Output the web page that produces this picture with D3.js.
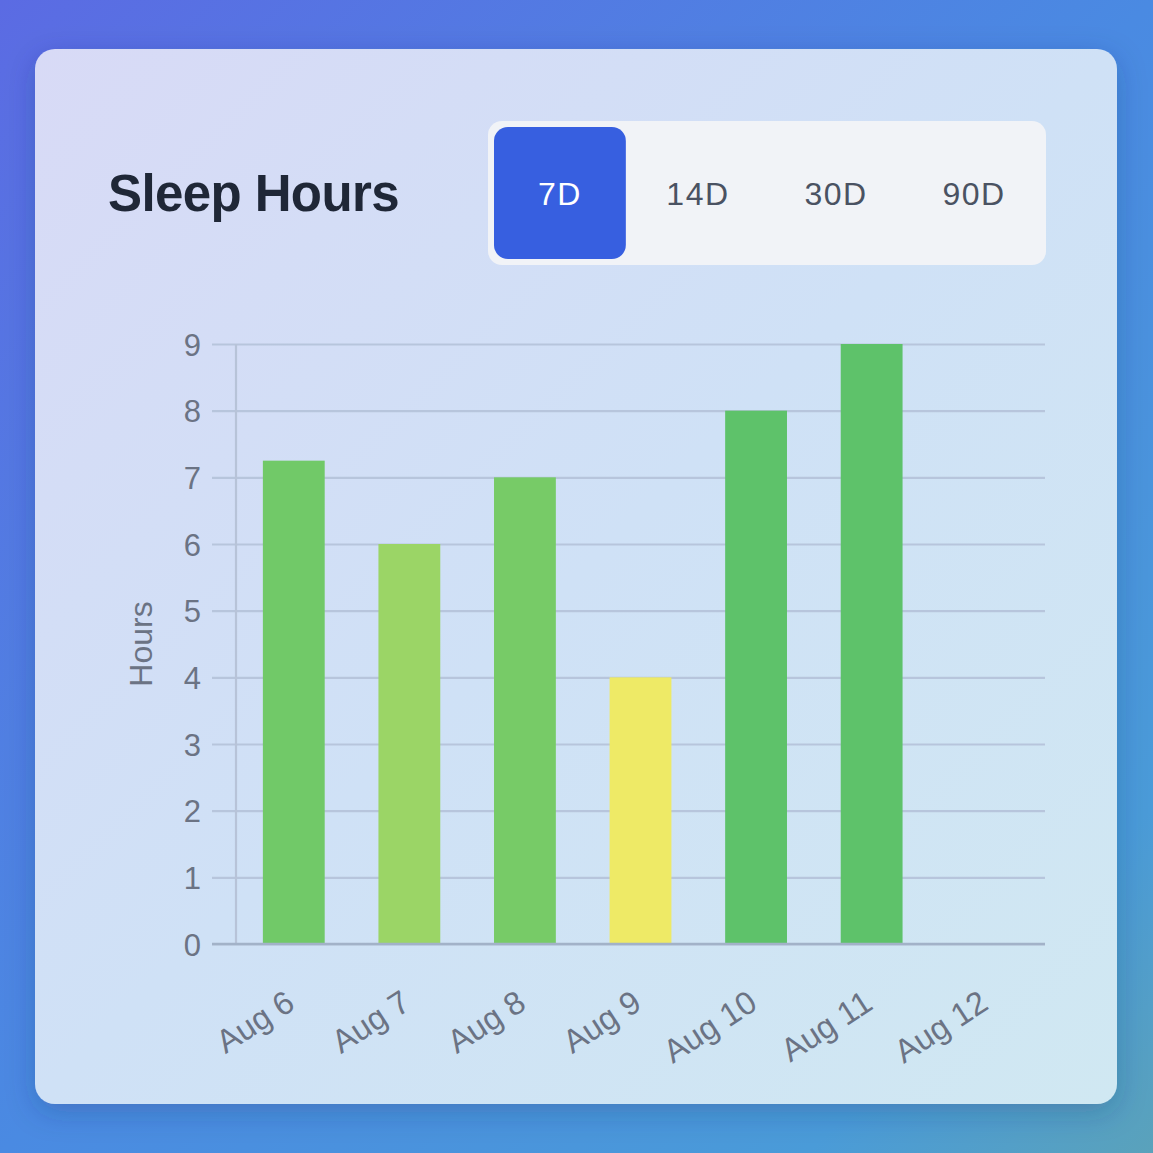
<!DOCTYPE html>
<html>
<head>
<meta charset="utf-8">
<script src="https://cdn.jsdelivr.net/npm/d3@7"></script>
<style>
  html, body { margin: 0; padding: 0; }
  body { width: 1153px; height: 1153px; overflow: hidden; }
  svg { display: block; }
</style>
</head>
<body>
<svg id="chart" width="1153" height="1153"></svg>
<script>
// ---- data ----
const categories = ["Aug 6", "Aug 7", "Aug 8", "Aug 9", "Aug 10", "Aug 11", "Aug 12"];
const sleepHours = [7.25, 6, 7, 4, 8, 9, null];
const yTicks = [0, 1, 2, 3, 4, 5, 6, 7, 8, 9];
const rangeOptions = ["7D", "14D", "30D", "90D"];
const activeRange = "7D";
const chartTitle = "Sleep Hours";
const yAxisTitle = "Hours";

// ---- layout ----
const W = 1153, H = 1153;
const svg = d3.select("#chart");
const defs = svg.append("defs");

const bg = defs.append("linearGradient").attr("id", "bg")
  .attr("x1", "0").attr("y1", "0").attr("x2", "1").attr("y2", "1");
bg.append("stop").attr("offset", "0").attr("stop-color", "#5b6be3");
bg.append("stop").attr("offset", "0.5").attr("stop-color", "#4a8ae2");
bg.append("stop").attr("offset", "0.85").attr("stop-color", "#4a9bd8");
bg.append("stop").attr("offset", "1").attr("stop-color", "#5aa2bb");

const cardG = defs.append("linearGradient").attr("id", "card")
  .attr("x1", "0").attr("y1", "0").attr("x2", "1").attr("y2", "1");
cardG.append("stop").attr("offset", "0").attr("stop-color", "#d8daf6");
cardG.append("stop").attr("offset", "0.5").attr("stop-color", "#cfe1f6");
cardG.append("stop").attr("offset", "1").attr("stop-color", "#d0e8f2");

const shadow = defs.append("filter").attr("id", "shadow")
  .attr("x", "-10%").attr("y", "-10%").attr("width", "120%").attr("height", "120%");
shadow.append("feDropShadow").attr("dx", 0).attr("dy", 8).attr("stdDeviation", 14)
  .attr("flood-color", "#1a2a6a").attr("flood-opacity", 0.25);

svg.append("rect").attr("width", W).attr("height", H).attr("fill", "url(#bg)");

const card = { x: 35, y: 49, w: 1082, h: 1055 };
svg.append("rect")
  .attr("x", card.x).attr("y", card.y).attr("width", card.w).attr("height", card.h)
  .attr("rx", 20).attr("fill", "url(#card)").attr("filter", "url(#shadow)");

const font = "'Liberation Sans', Arial, Helvetica, sans-serif";

// title
svg.append("text")
  .attr("x", 108).attr("y", 211)
  .attr("font-family", font).attr("font-weight", 700).attr("font-size", 51)
  .attr("letter-spacing", -0.6)
  .attr("fill", "#1f2737")
  .text(chartTitle);

// range buttons
const btnGroup = { x: 488, y: 121, w: 558, h: 144 };
svg.append("rect")
  .attr("x", btnGroup.x).attr("y", btnGroup.y).attr("width", btnGroup.w).attr("height", btnGroup.h)
  .attr("rx", 14).attr("fill", "#f1f3f7");

const bx = d3.scaleBand().domain(rangeOptions)
  .range([btnGroup.x + 6, btnGroup.x + btnGroup.w - 6]).paddingInner(0.045);

const btn = svg.append("g").selectAll("g").data(rangeOptions).join("g");
btn.filter(d => d === activeRange).append("rect")
  .attr("x", d => bx(d)).attr("y", btnGroup.y + 6)
  .attr("width", bx.bandwidth()).attr("height", btnGroup.h - 12)
  .attr("rx", 14).attr("fill", "#375fe0");
btn.append("text")
  .attr("x", d => bx(d) + bx.bandwidth() / 2).attr("y", btnGroup.y + btnGroup.h / 2 + 12)
  .attr("text-anchor", "middle")
  .attr("font-family", font).attr("font-size", 32).attr("letter-spacing", 1.5)
  .attr("fill", d => d === activeRange ? "#ffffff" : "#4a5262")
  .text(d => d);

// chart
const plot = { left: 236, right: 1045, top: 344, bottom: 944 };
const x = d3.scaleBand().domain(categories).range([plot.left, plot.right])
  .paddingInner(0.465).paddingOuter(0.2325);
const y = d3.scaleLinear().domain([0, 9]).range([plot.bottom, plot.top]);
const color = d3.scaleLinear().domain([4, 6, 7, 8, 9])
  .range(["#eeea66", "#9bd566", "#77cb67", "#5ec26a", "#5ec26a"]);

// gridlines + y axis
const yAxis = d3.axisLeft(y).tickValues(yTicks).tickFormat(d3.format("d"))
  .tickSize(-(plot.right - plot.left)).tickPadding(0);
const gy = svg.append("g").attr("transform", `translate(${plot.left},0)`).call(yAxis);
gy.select(".domain").remove();
gy.selectAll(".tick line")
  .attr("x1", -24)
  .attr("stroke", "#b7c5dc").attr("stroke-width", 2.2);
gy.selectAll(".tick text")
  .attr("x", -35).attr("dy", "0.36em")
  .attr("font-family", font).attr("font-size", 31).attr("fill", "#6b7384");

// vertical axis line
svg.append("line")
  .attr("x1", plot.left).attr("x2", plot.left).attr("y1", plot.top).attr("y2", plot.bottom)
  .attr("stroke", "#b7c3d8").attr("stroke-width", 2.2);

// bars
svg.append("g").selectAll("rect")
  .data(categories.map((c, i) => ({ c, v: sleepHours[i] })).filter(d => d.v != null))
  .join("rect")
  .attr("x", d => x(d.c)).attr("width", x.bandwidth())
  .attr("y", d => y(d.v)).attr("height", d => y(0) - y(d.v))
  .attr("fill", d => color(d.v));

// x axis
const xAxis = d3.axisBottom(x).tickSize(0).tickPadding(0);
const gx = svg.append("g").attr("transform", `translate(0,${plot.bottom})`).call(xAxis);
gx.select(".domain").remove();
gx.selectAll(".tick text")
  .attr("font-family", font).attr("font-size", 32.5).attr("fill", "#6b7384")
  .attr("text-anchor", "end")
  .attr("y", 0).attr("dy", 0)
  .attr("transform", "translate(3,64) rotate(-33)");

svg.append("line")
  .attr("x1", plot.left - 24).attr("x2", plot.right).attr("y1", plot.bottom).attr("y2", plot.bottom)
  .attr("stroke", "#a2b2c8").attr("stroke-width", 2.4);

// y title
svg.append("text")
  .attr("transform", `translate(152,${(plot.top + plot.bottom) / 2}) rotate(-90)`)
  .attr("text-anchor", "middle")
  .attr("font-family", font).attr("font-size", 32).attr("fill", "#6b7384")
  .text(yAxisTitle);
</script>
</body>
</html>
